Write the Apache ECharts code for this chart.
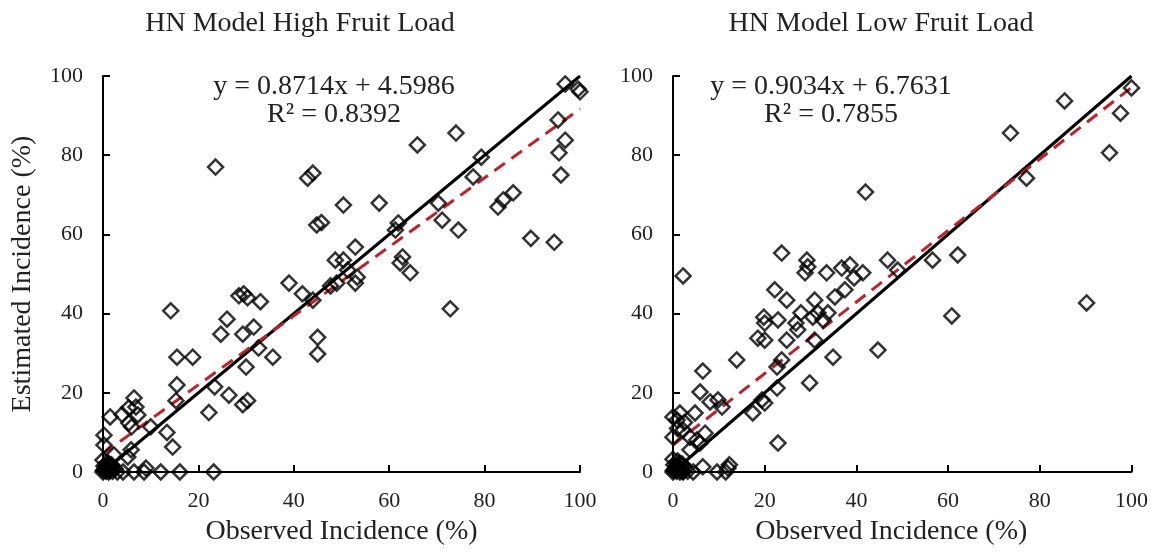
<!DOCTYPE html>
<html>
<head>
    <meta charset="UTF-8"/>
    <title>HN Model Fruit Load</title>
    <style>
        html, body { margin: 0; padding: 0; background: #fff; }
        #charts { width: 1151px; height: 553px; }
    </style>
</head>
<body>
<div id="charts"></div>

<script src="https://cdn.jsdelivr.net/npm/echarts/dist/echarts.min.js"></script>
<script>
    // HN model, high fruit load: observed vs estimated incidence (%)
    var highObs = [0, 0.3, 0.7, 1, 1.5, 0.2, 1.8, 2.5, 0.9, 0, 3, 1.2, 0.5, 1.3, 0.1, 2, 0.6, 1.6,
        0.2, 0.2, 1.5, 2.3, 5.2, 5.9, 5.4, 6, 4, 7.3, 6.9, 5.4, 6.5,
        4.2, 6.5, 8.6, 9, 12.1, 16.1, 23.2,
        10, 13.4, 14.6, 14.2, 15.5, 18.8, 15.5, 15.3, 22.2, 23.4,
        26, 24.7, 29.3, 31.6, 28.5, 29.5, 30.3, 33, 32.6, 35.6, 30, 26.4, 29.3, 30.3,
        39, 41.8, 45, 45, 44, 47.7, 49, 23.6, 42.9, 44, 44.8, 45.8, 48.7,
        52.9, 51.3, 53.3, 50.4, 52.9, 50.4, 57.9,
        61.3, 61.9, 62.8, 62.3, 64.4, 65.9, 70.3, 71.1, 72.8, 74.5, 74, 77.6, 79.3,
        82.8, 83.9, 86, 89.7, 94.6, 95.6, 96, 96.9, 95.4, 96.9, 99.6, 100];
    var highEst = [0, 0.6, 0.2, 1, 0.4, 1.5, 1.8, 0.8, 2.4, 3, 0, 0, 0.9, 2, 0.4, 0.2, 1.4, 1.1,
        9.3, 6.8, 13.9, 4.3, 3.8, 5.6, 12.4, 11.4, 14.5, 14.4, 16.4, 16.2, 18.7,
        0, 0, 0, 1, 0, 0, 0,
        11.4, 10, 6.3, 40.7, 29, 29, 22, 18, 15, 21.5,
        38.6, 34.8, 34.8, 36.6, 44.5, 45, 44, 43, 31.3, 29, 26.5, 19.4, 17, 18,
        47.7, 45, 34, 29.8, 43.4, 47, 47.7, 77, 74.2, 75.5, 62.4, 63, 53.5,
        47.7, 51, 49.2, 53.5, 56.8, 67.4, 67.9,
        61.1, 62.9, 54.3, 52.8, 50.3, 82.6, 67.9, 63.6, 41.2, 61.1, 85.6, 74.5, 79.5,
        66.9, 68.7, 70.5, 59, 58, 80.6, 75, 83.8, 88.9, 98, 96.7, 96];

    // HN model, low fruit load
    var lowObs = [0, 0.4, 0.8, 1.2, 1.8, 0.2, 2, 2.8, 1, 0, 3.2, 1.5, 0.5, 1.4, 0.1, 2.2, 0.7, 1.7,
        0, 0.9, 1.5, 4.8, 0, 2.2, 3.7, 5.2, 7, 5.9, 3.7, 1, 2.5,
        2.2, 4.4, 6.5, 9.6, 12, 11.5, 12.3,
        6.5, 5.9, 8.1, 9.8, 10.7, 13.9, 2.2,
        17.4, 19.4, 20, 22.7, 22.9, 22.7, 23.7, 18.5, 20, 24.8, 19.8, 20, 22.9, 22.2, 24.8, 23.7,
        26.8, 27.9, 27.2, 29.8, 30.9, 34.9, 30.9, 31.6, 30.5, 32.7, 33.8, 35.3, 37.5, 39.5,
        28.8, 29.4, 29.2, 33.5, 36.8, 38.6, 41.4, 42, 44.7, 46.8, 49,
        56.6, 60.8, 62.1, 73.6, 77.1, 85.4, 90.2, 95.2, 97.6, 100];
    var lowEst = [0, 0.5, 0.2, 1.2, 0.5, 1.8, 2, 1, 2.8, 3.2, 0.2, 0, 0.9, 2.2, 0.4, 0.2, 1.5, 1.1,
        13.9, 13.1, 14.9, 14.9, 8.8, 10.6, 8.8, 8.1, 9.8, 7.3, 5.6, 11, 12.5,
        0, 0, 1.3, 0, 1, 0, 1.8,
        25.5, 20.2, 17.7, 18.2, 16.4, 28.3, 49.5,
        14.9, 18.2, 17.4, 21.2, 7.3, 26.5, 28.3, 33.8, 33.3, 33.3, 39.1, 37.6, 38.4, 46, 43.4, 55.3,
        37.6, 40.2, 35.9, 22.5, 33.3, 29, 43.4, 40.2, 39.1, 38.4, 40.2, 44.2, 46, 49,
        50.3, 51.8, 53.5, 50.3, 51.5, 52.3, 50.3, 70.7, 30.8, 53.5, 51,
        53.5, 39.4, 54.8, 85.6, 74.2, 93.7, 42.7, 80.6, 90.6, 97];

    // line ends at x = 0 and x = 100
    var lineX = [0, 100];
    var oneToOne = [0, 100];
    var highFit = [4.6, 91.7];
    var lowFit = [6.8, 97.1];

    var serif = 'Liberation Serif';

    function pairs(xs, ys) {
        var out = [];
        for (var i = 0; i < xs.length; i++) {
            out.push([xs[i], ys[i]]);
        }
        return out;
    }

    function makeX(idx, pad) {
        return {
            gridIndex: idx,
            type: 'value',
            min: 0,
            max: 100,
            interval: 20,
            name: 'Observed Incidence (%)',
            nameLocation: 'middle',
            nameGap: 46,
            nameTextStyle: {fontFamily: serif, fontSize: 28, color: '#222', padding: pad},
            axisLine: {lineStyle: {color: '#000', width: 2}},
            axisTick: {inside: true, length: 7, lineStyle: {color: '#000', width: 2}},
            axisLabel: {fontFamily: serif, fontSize: 22, color: '#222', margin: 18},
            splitLine: {show: false}
        };
    }

    function makeY(idx, withName) {
        return {
            gridIndex: idx,
            type: 'value',
            min: 0,
            max: 100,
            interval: 20,
            name: withName ? 'Estimated Incidence (%)' : '',
            nameLocation: 'middle',
            nameGap: 66,
            nameTextStyle: {fontFamily: serif, fontSize: 28, color: '#222'},
            axisLine: {show: true, lineStyle: {color: '#000', width: 2}},
            axisTick: {show: true, inside: true, length: 7, lineStyle: {color: '#000', width: 2}},
            axisLabel: {fontFamily: serif, fontSize: 22, color: '#222', margin: 20, padding: [8, 0, 0, 0]},
            splitLine: {show: false}
        };
    }

    function scatter(idx, data) {
        return {
            type: 'scatter',
            xAxisIndex: idx,
            yAxisIndex: idx,
            symbol: 'diamond',
            symbolSize: 15,
            itemStyle: {color: 'rgba(0,0,0,0)', borderColor: '#000', borderWidth: 2.5},
            data: data,
            z: 3
        };
    }

    function line(idx, ys, color, type) {
        return {
            type: 'line',
            xAxisIndex: idx,
            yAxisIndex: idx,
            symbol: 'none',
            lineStyle: {color: color, width: 3, type: type},
            data: pairs(lineX, ys),
            z: 2
        };
    }

    function label(x, y, text) {
        return {
            type: 'text',
            x: x,
            y: y,
            style: {
                text: text,
                font: '28px "Liberation Serif"',
                fill: '#222',
                textAlign: 'center',
                textVerticalAlign: 'top'
            }
        };
    }

    var myChart = echarts.init(document.getElementById('charts'));

    var option = {
        animation: false,
        backgroundColor: '#fff',
        grid: [
            {left: 103, right: 571, top: 76, bottom: 81},
            {left: 673, right: 19, top: 76, bottom: 81}
        ],
        xAxis: [makeX(0, 0), makeX(1, [0, 22, 0, 0])],
        yAxis: [makeY(0, true), makeY(1, false)],
        graphic: [
            label(300, 10, 'HN Model High Fruit Load'),
            label(881, 10, 'HN Model Low Fruit Load'),
            label(334, 73, 'y = 0.8714x + 4.5986'),
            label(334, 101, 'R\u00B2 = 0.8392'),
            label(831, 73, 'y = 0.9034x + 6.7631'),
            label(831, 101, 'R\u00B2 = 0.7855')
        ],
        series: [
            line(0, oneToOne, '#000', 'solid'),
            line(0, highFit, '#c0202a', [13, 8]),
            scatter(0, pairs(highObs, highEst)),
            line(1, oneToOne, '#000', 'solid'),
            line(1, lowFit, '#c0202a', [13, 8]),
            scatter(1, pairs(lowObs, lowEst))
        ]
    };

    myChart.setOption(option);
</script>
</body>
</html>
